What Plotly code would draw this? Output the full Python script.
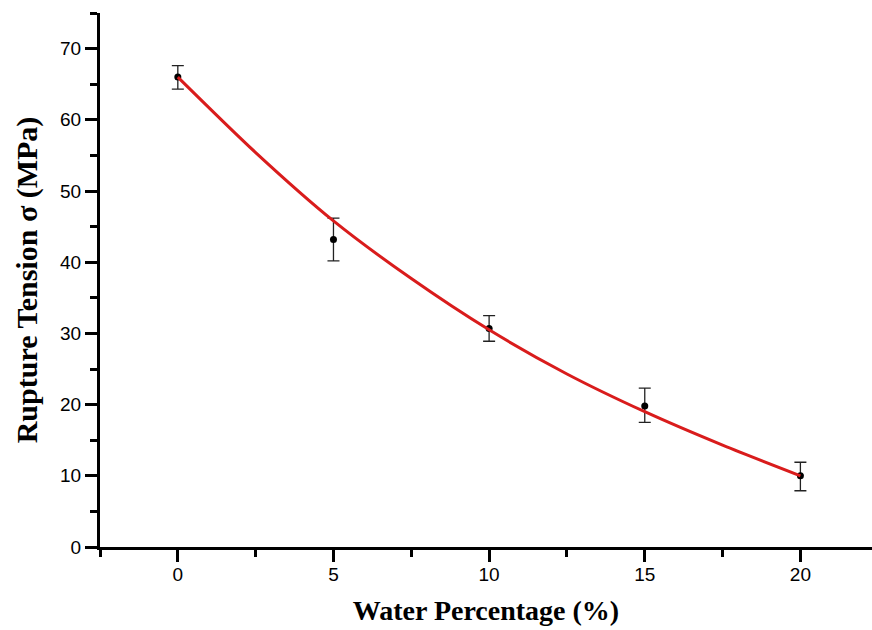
import plotly.graph_objects as go

# measured data
water_pct = [0, 5, 10, 15, 20]
tension = [66.0, 43.2, 30.7, 19.8, 10.0]
err_plus = [1.6, 3.0, 1.8, 2.5, 1.9]
err_minus = [1.7, 3.0, 1.8, 2.3, 2.1]

# fitted curve
fit_x = [0, 2.5, 5, 7.5, 10, 12.5, 15, 17.5, 20]
fit_y = [66.0, 55.4, 45.8, 37.7, 30.5, 24.3, 19.0, 14.3, 10.0]

x_ticks = [0, 5, 10, 15, 20]
y_ticks = [0, 10, 20, 30, 40, 50, 60, 70]

fig = go.Figure()
fig.add_trace(go.Scatter(
    x=water_pct, y=tension, mode="markers",
    marker=dict(color="black", size=7),
    error_y=dict(type="data", symmetric=False, array=err_plus, arrayminus=err_minus,
                 color="#222222", thickness=1.3, width=6),
    showlegend=False,
))
fig.add_trace(go.Scatter(
    x=fit_x, y=fit_y, mode="lines",
    line=dict(color="#d91c1c", width=3, shape="spline", smoothing=0.8),
    showlegend=False,
))

axis_common = dict(
    showgrid=False, zeroline=False, showline=True, linecolor="black", linewidth=3,
    ticks="outside", ticklen=12, tickwidth=3, tickcolor="black",
    tickfont=dict(family="Liberation Sans, Arial", size=19, color="black"),
)

fig.update_xaxes(
    range=[-2.5, 22.3], tickvals=x_ticks, ticktext=[str(v) for v in x_ticks],
    minor=dict(dtick=2.5, tick0=0, ticks="outside", ticklen=7, tickwidth=3, tickcolor="black"),
    title=dict(text="Water Percentage (%)",
               font=dict(family="Liberation Serif, Times New Roman", size=28, color="black", weight="bold"),
               standoff=17),
    ticklabelstandoff=-4,
    **axis_common,
)
fig.update_yaxes(
    range=[0, 75], tickvals=y_ticks, ticktext=[str(v) for v in y_ticks],
    minor=dict(dtick=5, tick0=0, ticks="outside", ticklen=7, tickwidth=3, tickcolor="black"),
    title=dict(text="Rupture Tension σ (MPa)",
               font=dict(family="Liberation Serif, Times New Roman", size=30, color="black", weight="bold"),
               standoff=14),
    **axis_common,
)
fig.update_layout(
    width=872, height=630,
    margin=dict(l=100, r=0, t=13, b=83),
    plot_bgcolor="white", paper_bgcolor="white",
)
fig.write_html("out.html")
